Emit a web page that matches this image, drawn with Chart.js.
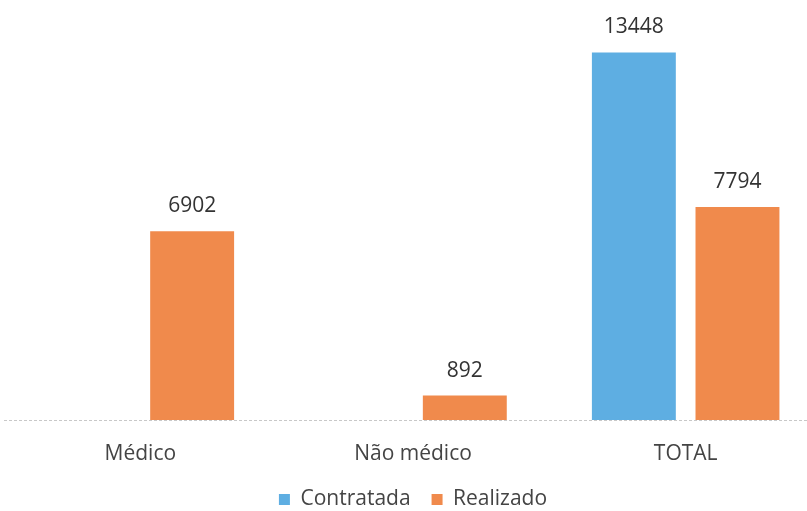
<!DOCTYPE html>
<html>
<head>
<meta charset="utf-8">
<script src="https://cdn.jsdelivr.net/npm/chart.js@4/dist/chart.umd.min.js"></script>
<style>
html,body{margin:0;padding:0;background:#fff;overflow:hidden;width:807px;height:511px;}
#wrap{position:relative;width:822px;height:520px;}
</style>
</head>
<body>
<div id="wrap"><canvas id="c"></canvas></div>
<script>
const categories = ["Médico", "Não médico", "TOTAL"];
const contratada = [null, null, 13448];
const realizado = [6902, 892, 7794];
const seriesNames = ["Contratada", "Realizado"];

const FONT = '"Open Sans", sans-serif';

const valueLabels = {
  id: 'valueLabels',
  afterDatasetsDraw(chart) {
    const ctx = chart.ctx;
    ctx.save();
    ctx.font = '21px ' + FONT;
    ctx.fillStyle = '#333';
    ctx.textAlign = 'center';
    ctx.textBaseline = 'middle';
    chart.data.datasets.forEach((ds, i) => {
      const meta = chart.getDatasetMeta(i);
      meta.data.forEach((bar, j) => {
        const v = ds.data[j];
        if (v === null || v === undefined) return;
        ctx.fillText(String(v), bar.x, bar.y - 25);
      });
    });
    ctx.restore();
  }
};

const baseLine = {
  id: 'baseLine',
  beforeDatasetsDraw(chart) {
    const ctx = chart.ctx;
    const y = chart.scales.y.getPixelForValue(0);
    ctx.save();
    ctx.strokeStyle = '#c8c8c8';
    ctx.lineWidth = 1;
    ctx.setLineDash([3, 2]);
    ctx.beginPath();
    ctx.moveTo(chart.chartArea.left, y + 0.5);
    ctx.lineTo(chart.chartArea.right, y + 0.5);
    ctx.stroke();
    ctx.restore();
  }
};

new Chart(document.getElementById('c'), {
  type: 'bar',
  data: {
    labels: categories,
    datasets: [
      { label: seriesNames[0], data: contratada, backgroundColor: '#5eaee2', borderWidth: 0 },
      { label: seriesNames[1], data: realizado, backgroundColor: '#f08a4c', borderWidth: 0 }
    ]
  },
  options: {
    responsive: true,
    maintainAspectRatio: false,
    animation: false,
    categoryPercentage: 0.76,
    barPercentage: 0.81,
    layout: { padding: { top: 10, left: 4, right: 0, bottom: 0 } },
    plugins: {
      legend: {
        position: 'bottom',
        labels: {
          boxWidth: 11, boxHeight: 11, padding: 21,
          color: '#444',
          font: { family: FONT, size: 21 }
        }
      },
      tooltip: { enabled: false }
    },
    scales: {
      x: {
        grid: { display: false, drawTicks: false },
        border: { display: false },
        ticks: { color: '#444', padding: 21, font: { family: FONT, size: 21 } },
        afterFit(scale) { scale.height = 48; }
      },
      y: {
        display: false,
        min: 0, max: 15000
      }
    }
  },
  plugins: [baseLine, valueLabels]
});
</script>
</body>
</html>
